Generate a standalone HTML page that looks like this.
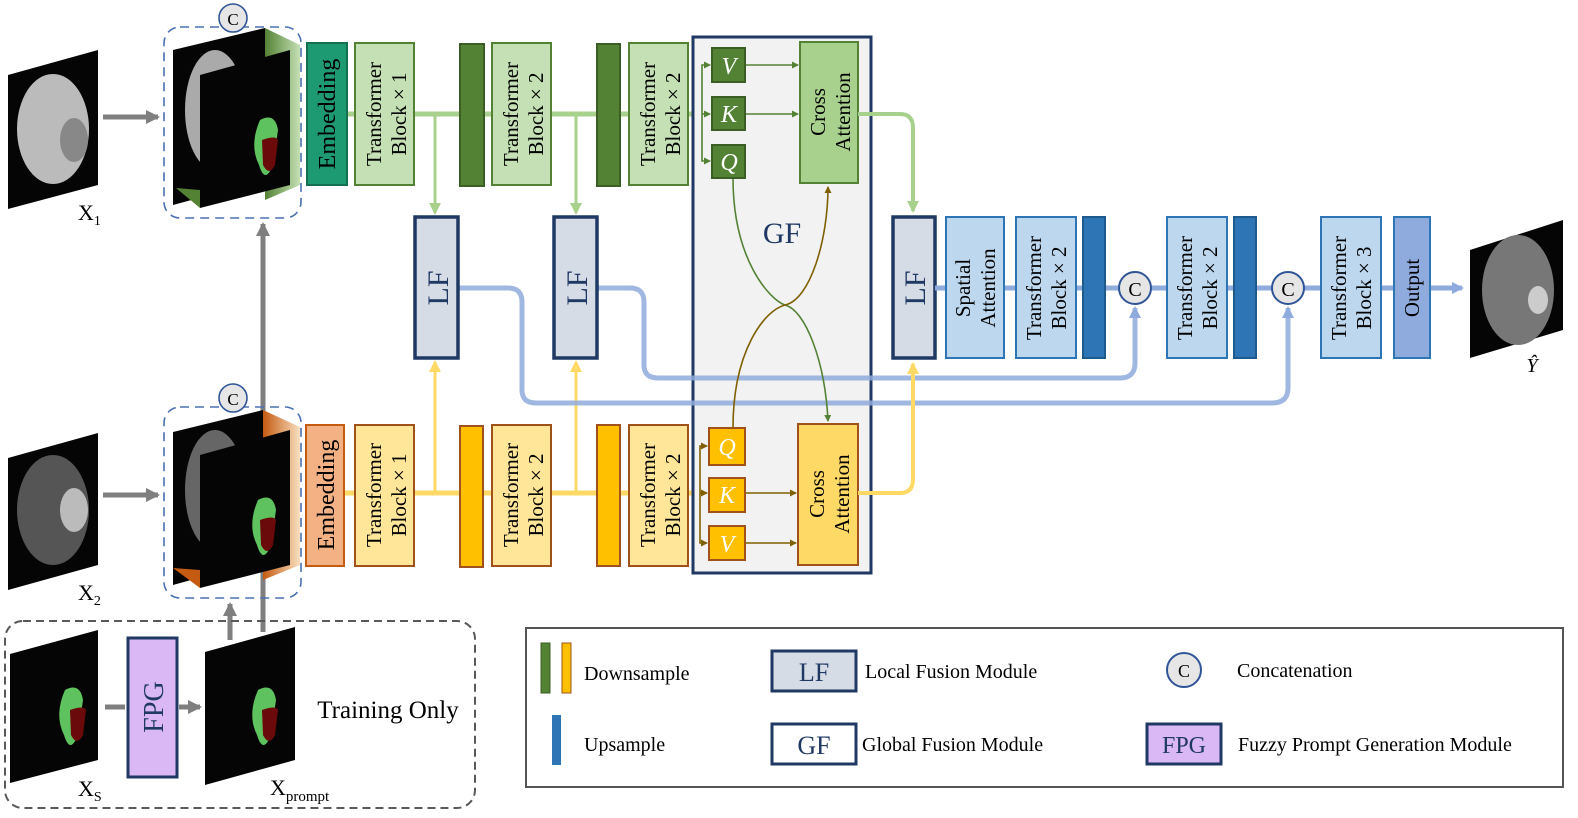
<!DOCTYPE html><html><head><style>html,body{margin:0;padding:0;overflow:hidden;background:#fff;width:1578px;height:818px}svg{display:block}text{font-family:"Liberation Serif",serif;fill:#000}</style></head><body>
<svg width="1578" height="818" viewBox="0 0 1578 818" xmlns="http://www.w3.org/2000/svg">
<defs>
<marker id="agr" markerWidth="12" markerHeight="12" refX="10" refY="6" orient="auto" markerUnits="userSpaceOnUse"><path d="M0,0L12,6L0,12z" fill="#a9d18e"/></marker>
<marker id="ay" markerWidth="12" markerHeight="12" refX="10" refY="6" orient="auto" markerUnits="userSpaceOnUse"><path d="M0,0L12,6L0,12z" fill="#ffd966"/></marker>
<marker id="ab" markerWidth="12" markerHeight="12" refX="10" refY="6" orient="auto" markerUnits="userSpaceOnUse"><path d="M0,0L12,6L0,12z" fill="#8faadc"/></marker>
<marker id="adg" markerWidth="7" markerHeight="7" refX="6" refY="3.5" orient="auto" markerUnits="userSpaceOnUse"><path d="M0,0L7,3.5L0,7z" fill="#548235"/></marker>
<marker id="ado" markerWidth="7" markerHeight="7" refX="6" refY="3.5" orient="auto" markerUnits="userSpaceOnUse"><path d="M0,0L7,3.5L0,7z" fill="#7f6000"/></marker>
<marker id="agray" markerWidth="14" markerHeight="14" refX="12" refY="7" orient="auto" markerUnits="userSpaceOnUse"><path d="M0,0L14,7L0,14z" fill="#7f7f7f"/></marker>
<linearGradient id="gg" x1="0" x2="1"><stop offset="0" stop-color="#548235"/><stop offset="1" stop-color="#c5e0b4"/></linearGradient>
<linearGradient id="go" x1="0" x2="1"><stop offset="0" stop-color="#c55a11"/><stop offset="1" stop-color="#f8e0c0"/></linearGradient>
</defs>

<polygon points="8,75 98,50 98,185 8,209" fill="#050505"/>
<ellipse cx="53" cy="129" rx="36" ry="55" fill="#bbb"/>
<ellipse cx="74" cy="140" rx="14" ry="22" fill="#888"/>
<text x="78" y="220" font-size="22">X<tspan font-size="14" dy="5">1</tspan></text>
<polygon points="8,458 98,433 98,565 8,590" fill="#050505"/>
<ellipse cx="53" cy="510" rx="36" ry="55" fill="#555"/>
<ellipse cx="74" cy="510" rx="14" ry="22" fill="#bbb"/>
<text x="78" y="600" font-size="22">X<tspan font-size="14" dy="5">2</tspan></text>
<line x1="103" y1="117" x2="158" y2="117" stroke="#7f7f7f" stroke-width="5" marker-end="url(#agray)"/>
<line x1="103" y1="495" x2="158" y2="495" stroke="#7f7f7f" stroke-width="5" marker-end="url(#agray)"/>

<line x1="263" y1="632" x2="263" y2="224" stroke="#7f7f7f" stroke-width="5" marker-end="url(#agray)"/>

<rect x="164" y="27" width="137" height="191" rx="16" fill="none" stroke="#4a70b0" stroke-width="1.6" stroke-dasharray="9,6"/>
<polygon points="265,28 300,45 300,185 265,200" fill="url(#gg)"/>
<polygon points="173,50 265,28 265,180 173,205" fill="#050505"/>
<ellipse cx="215" cy="110" rx="30" ry="60" fill="#aaa"/>
<polygon points="200,75 290,50 290,185 200,208" fill="#050505"/>
<polygon points="176,188 200,208 200,190" fill="#548235"/>
<path d="M260,120 q15,-8 18,10 l-5,35 q-8,20 -14,0 q-10,-20 1,-45z" fill="#5ec35e"/>
<path d="M262,140 q14,-5 16,0 l-3,25 q-6,12 -12,0z" fill="#6b0a0a"/>
<circle cx="233" cy="18" r="14" fill="#e7e6e6" stroke="#2f5597" stroke-width="1.6"/><text x="233" y="25" font-size="17" text-anchor="middle">C</text>

<rect x="164" y="407" width="137" height="191" rx="16" fill="none" stroke="#4a70b0" stroke-width="1.6" stroke-dasharray="9,6"/>
<polygon points="263,410 300,427 300,565 263,580" fill="url(#go)"/>
<polygon points="173,432 263,410 263,560 173,585" fill="#050505"/>
<ellipse cx="215" cy="490" rx="30" ry="60" fill="#666"/>
<polygon points="200,455 290,430 290,565 200,588" fill="#050505"/>
<polygon points="173,568 200,588 200,570" fill="#c55a11"/>
<path d="M258,500 q15,-8 18,10 l-5,35 q-8,20 -14,0 q-10,-20 1,-45z" fill="#5ec35e"/>
<path d="M260,520 q14,-5 16,0 l-3,25 q-6,12 -12,0z" fill="#6b0a0a"/>
<circle cx="233" cy="398" r="14" fill="#e7e6e6" stroke="#2f5597" stroke-width="1.6"/><text x="233" y="405" font-size="17" text-anchor="middle">C</text>

<line x1="230" y1="640" x2="230" y2="604" stroke="#7f7f7f" stroke-width="5" marker-end="url(#agray)"/>

<rect x="5" y="621" width="470" height="187" rx="18" fill="none" stroke="#595959" stroke-width="2" stroke-dasharray="8,5"/>
<polygon points="10,654 98,630 98,760 10,783" fill="#050505"/>
<path d="M65,690 q15,-8 18,10 l-5,35 q-8,20 -14,0 q-10,-20 1,-45z" fill="#5ec35e"/>
<path d="M70,710 q14,-5 16,0 l-3,25 q-6,12 -12,0z" fill="#6b0a0a"/>
<text x="78" y="796" font-size="22">X<tspan font-size="14" dy="5">S</tspan></text>
<line x1="105" y1="707" x2="125" y2="707" stroke="#7f7f7f" stroke-width="5"/>
<rect x="128" y="638" width="49" height="139" fill="#d9b8f5" stroke="#1f3864" stroke-width="3"/>
<text transform="translate(163,707) rotate(-90)" font-size="28" text-anchor="middle" style="fill:#1f3864">FPG</text>
<line x1="179" y1="707" x2="200" y2="707" stroke="#7f7f7f" stroke-width="5" marker-end="url(#agray)"/>
<polygon points="205,652 295,627 295,760 205,785" fill="#050505"/>
<path d="M258,690 q15,-8 18,10 l-5,35 q-8,20 -14,0 q-10,-20 1,-45z" fill="#5ec35e"/>
<path d="M262,710 q14,-5 16,0 l-3,25 q-6,12 -12,0z" fill="#6b0a0a"/>
<text x="270" y="795" font-size="22">X<tspan font-size="15" dy="6">prompt</tspan></text>
<text x="388" y="718" font-size="25" text-anchor="middle">Training Only</text>

<line x1="347" y1="114" x2="700" y2="114" stroke="#a9d18e" stroke-width="5"/>
<line x1="345" y1="493" x2="700" y2="493" stroke="#ffd966" stroke-width="5"/>
<line x1="435" y1="114" x2="435" y2="213" stroke="#a9d18e" stroke-width="3" marker-end="url(#agr)"/>
<line x1="576" y1="114" x2="576" y2="213" stroke="#a9d18e" stroke-width="3" marker-end="url(#agr)"/>
<line x1="435" y1="493" x2="435" y2="362" stroke="#ffd966" stroke-width="3" marker-end="url(#ay)"/>
<line x1="576" y1="493" x2="576" y2="362" stroke="#ffd966" stroke-width="3" marker-end="url(#ay)"/>

<g stroke-width="2">
<rect x="307" y="43" width="40" height="142" fill="#1e9a73" stroke="#14704f"/>
<rect x="355" y="43" width="59" height="142" fill="#c5e0b4" stroke="#548235"/>
<rect x="460" y="44" width="24" height="142" fill="#548235" stroke="#3b5e24"/>
<rect x="492" y="43" width="59" height="142" fill="#c5e0b4" stroke="#548235"/>
<rect x="597" y="44" width="23" height="142" fill="#548235" stroke="#3b5e24"/>
<rect x="629" y="43" width="59" height="142" fill="#c5e0b4" stroke="#548235"/>
<rect x="306" y="425" width="38" height="141" fill="#f4b183" stroke="#c55a11"/>
<rect x="355" y="425" width="59" height="141" fill="#ffe699" stroke="#a0521a"/>
<rect x="460" y="426" width="23" height="141" fill="#ffc000" stroke="#a0521a"/>
<rect x="492" y="425" width="59" height="141" fill="#ffe699" stroke="#a0521a"/>
<rect x="597" y="425" width="23" height="141" fill="#ffc000" stroke="#a0521a"/>
<rect x="629" y="425" width="59" height="141" fill="#ffe699" stroke="#a0521a"/>
</g>
<g font-size="21">
<text transform="translate(335,114) rotate(-90)" text-anchor="middle" font-size="24">Embedding</text>
<text transform="translate(334,495) rotate(-90)" text-anchor="middle" font-size="24">Embedding</text>
<text transform="translate(381,114) rotate(-90)" text-anchor="middle">Transformer</text>
<text transform="translate(406,114) rotate(-90)" text-anchor="middle">Block × 1</text>
<text transform="translate(518,114) rotate(-90)" text-anchor="middle">Transformer</text>
<text transform="translate(543,114) rotate(-90)" text-anchor="middle">Block × 2</text>
<text transform="translate(655,114) rotate(-90)" text-anchor="middle">Transformer</text>
<text transform="translate(680,114) rotate(-90)" text-anchor="middle">Block × 2</text>
<text transform="translate(381,495) rotate(-90)" text-anchor="middle">Transformer</text>
<text transform="translate(406,495) rotate(-90)" text-anchor="middle">Block × 1</text>
<text transform="translate(518,495) rotate(-90)" text-anchor="middle">Transformer</text>
<text transform="translate(543,495) rotate(-90)" text-anchor="middle">Block × 2</text>
<text transform="translate(655,495) rotate(-90)" text-anchor="middle">Transformer</text>
<text transform="translate(680,495) rotate(-90)" text-anchor="middle">Block × 2</text>
</g>

<rect x="693" y="37" width="178" height="536" fill="#f2f2f2" stroke="#1f3864" stroke-width="3"/>
<text x="782" y="243" font-size="30" text-anchor="middle" style="fill:#1f3864">GF</text>

<path d="M458,288 H508 Q522,288 522,302 V390 Q522,403 536,403 H1272 Q1288,403 1288,388 V308" fill="none" stroke="#8faadc" stroke-width="5" stroke-opacity="0.85" marker-end="url(#ab)"/>
<path d="M597,288 H630 Q644,288 644,302 V365 Q644,378 658,378 H1120 Q1135,378 1135,363 V308" fill="none" stroke="#8faadc" stroke-width="5" stroke-opacity="0.85" marker-end="url(#ab)"/>

<g fill="#d6dce5" stroke="#1f3864" stroke-width="3.5">
<rect x="415" y="217" width="43" height="141"/>
<rect x="554" y="217" width="43" height="141"/>
<rect x="893" y="217" width="42" height="141"/>
</g>
<g font-size="30">
<text transform="translate(448,288) rotate(-90)" text-anchor="middle" style="fill:#1f3864">LF</text>
<text transform="translate(587,288) rotate(-90)" text-anchor="middle" style="fill:#1f3864">LF</text>
<text transform="translate(925,288) rotate(-90)" text-anchor="middle" style="fill:#1f3864">LF</text>
</g>

<g stroke="#548235" stroke-width="1.6" fill="none">
<path d="M702,114 V65 H710" marker-end="url(#adg)"/><path d="M702,114 H710" marker-end="url(#adg)"/><path d="M702,114 V161 H710" marker-end="url(#adg)"/>
<path d="M745,65 H798" marker-end="url(#adg)"/><path d="M745,114 H798" marker-end="url(#adg)"/>
<path d="M733,178 C733,260 770,300 785,305 C805,310 825,360 828,421" marker-end="url(#adg)"/>
</g>
<g stroke="#7f6000" stroke-width="1.6" fill="none">
<path d="M700,493 V446 H707" marker-end="url(#ado)"/><path d="M700,493 H707" marker-end="url(#ado)"/><path d="M700,493 V543 H707" marker-end="url(#ado)"/>
<path d="M745,493 H796" marker-end="url(#ado)"/><path d="M745,543 H796" marker-end="url(#ado)"/>
<path d="M733,428 C733,350 765,310 785,305 C810,300 828,240 828,187" marker-end="url(#ado)"/>
</g>
<g stroke-width="2">
<rect x="712" y="48" width="33" height="34" fill="#548235" stroke="#3b5e24"/>
<rect x="712" y="97" width="33" height="33" fill="#548235" stroke="#3b5e24"/>
<rect x="712" y="145" width="33" height="33" fill="#548235" stroke="#3b5e24"/>
<rect x="800" y="42" width="58" height="141" fill="#a9d18e" stroke="#548235"/>
<rect x="709" y="428" width="36" height="37" fill="#ffc000" stroke="#a0521a"/>
<rect x="709" y="478" width="36" height="34" fill="#ffc000" stroke="#a0521a"/>
<rect x="709" y="526" width="36" height="34" fill="#ffc000" stroke="#a0521a"/>
<rect x="798" y="424" width="60" height="141" fill="#ffd966" stroke="#a0521a"/>
</g>
<g font-size="24" font-style="italic" text-anchor="middle">
<text x="729" y="74" style="fill:#fff">V</text><text x="729" y="122" style="fill:#fff">K</text><text x="729" y="170" style="fill:#fff">Q</text>
<text x="727" y="455" style="fill:#fff">Q</text><text x="727" y="503" style="fill:#fff">K</text><text x="727" y="552" style="fill:#fff">V</text>
</g>
<g font-size="21" text-anchor="middle">
<text transform="translate(825,112) rotate(-90)">Cross</text><text transform="translate(850,112) rotate(-90)">Attention</text>
<text transform="translate(824,494) rotate(-90)">Cross</text><text transform="translate(849,494) rotate(-90)">Attention</text>
</g>
<path d="M858,114 H900 Q913,114 913,128 V211" fill="none" stroke="#a9d18e" stroke-width="4" marker-end="url(#agr)"/>
<path d="M858,493 H900 Q913,493 913,479 V364" fill="none" stroke="#ffd966" stroke-width="4" marker-end="url(#ay)"/>

<line x1="935" y1="288" x2="1462" y2="288" stroke="#8faadc" stroke-width="5" marker-end="url(#ab)"/>
<g stroke-width="2">
<rect x="946" y="217" width="58" height="141" fill="#bdd7ee" stroke="#2e75b6"/>
<rect x="1016" y="217" width="60" height="141" fill="#bdd7ee" stroke="#2e75b6"/>
<rect x="1083" y="217" width="22" height="141" fill="#2e75b6" stroke="#1f5a8f"/>
<rect x="1167" y="217" width="60" height="141" fill="#bdd7ee" stroke="#2e75b6"/>
<rect x="1234" y="217" width="22" height="141" fill="#2e75b6" stroke="#1f5a8f"/>
<rect x="1321" y="217" width="60" height="141" fill="#bdd7ee" stroke="#2e75b6"/>
<rect x="1394" y="217" width="36" height="141" fill="#8faadc" stroke="#2e75b6"/>
</g>
<circle cx="1135" cy="288" r="16" fill="#e7e6e6" stroke="#2f5597" stroke-width="2"/><text x="1135" y="296" font-size="20" text-anchor="middle">C</text>
<circle cx="1288" cy="288" r="16" fill="#e7e6e6" stroke="#2f5597" stroke-width="2"/><text x="1288" y="296" font-size="20" text-anchor="middle">C</text>
<g font-size="21" text-anchor="middle">
<text transform="translate(970,288) rotate(-90)">Spatial</text><text transform="translate(995,288) rotate(-90)">Attention</text>
<text transform="translate(1041,288) rotate(-90)">Transformer</text><text transform="translate(1066,288) rotate(-90)">Block × 2</text>
<text transform="translate(1192,288) rotate(-90)">Transformer</text><text transform="translate(1217,288) rotate(-90)">Block × 2</text>
<text transform="translate(1346,288) rotate(-90)">Transformer</text><text transform="translate(1371,288) rotate(-90)">Block × 3</text>
<text transform="translate(1419,288) rotate(-90)">Output</text>
</g>
<polygon points="1470,250 1563,220 1563,330 1470,358" fill="#050505"/>
<ellipse cx="1518" cy="290" rx="36" ry="55" fill="#777"/>
<ellipse cx="1538" cy="300" rx="10" ry="14" fill="#ccc"/>
<text x="1532" y="372" font-size="20" font-style="italic" text-anchor="middle">Ŷ</text>

<rect x="526" y="628" width="1037" height="159" fill="none" stroke="#555" stroke-width="2"/>
<rect x="541" y="643" width="9" height="50" fill="#548235" stroke="#3b5e24"/>
<rect x="562" y="643" width="9" height="50" fill="#ffc000" stroke="#a0521a"/>
<text x="584" y="680" font-size="20">Downsample</text>
<rect x="552" y="715" width="9" height="50" fill="#2e75b6"/>
<text x="584" y="751" font-size="20">Upsample</text>
<rect x="772" y="651" width="84" height="40" fill="#d6dce5" stroke="#1f3864" stroke-width="3"/>
<text x="814" y="681" font-size="26" text-anchor="middle" style="fill:#1f3864">LF</text>
<text x="865" y="678" font-size="20">Local Fusion Module</text>
<rect x="772" y="724" width="84" height="40" fill="#fff" stroke="#1f3864" stroke-width="3"/>
<text x="814" y="754" font-size="26" text-anchor="middle" style="fill:#1f3864">GF</text>
<text x="862" y="751" font-size="20">Global Fusion Module</text>
<circle cx="1184" cy="670" r="17" fill="#e7e6e6" stroke="#2f5597" stroke-width="2"/><text x="1184" y="677" font-size="18" text-anchor="middle">C</text>
<text x="1237" y="677" font-size="20">Concatenation</text>
<rect x="1147" y="724" width="74" height="40" fill="#d9b8f5" stroke="#1f3864" stroke-width="3"/>
<text x="1184" y="753" font-size="24" text-anchor="middle" style="fill:#1f3864">FPG</text>
<text x="1238" y="751" font-size="20">Fuzzy Prompt Generation Module</text>
</svg>
</body></html>
